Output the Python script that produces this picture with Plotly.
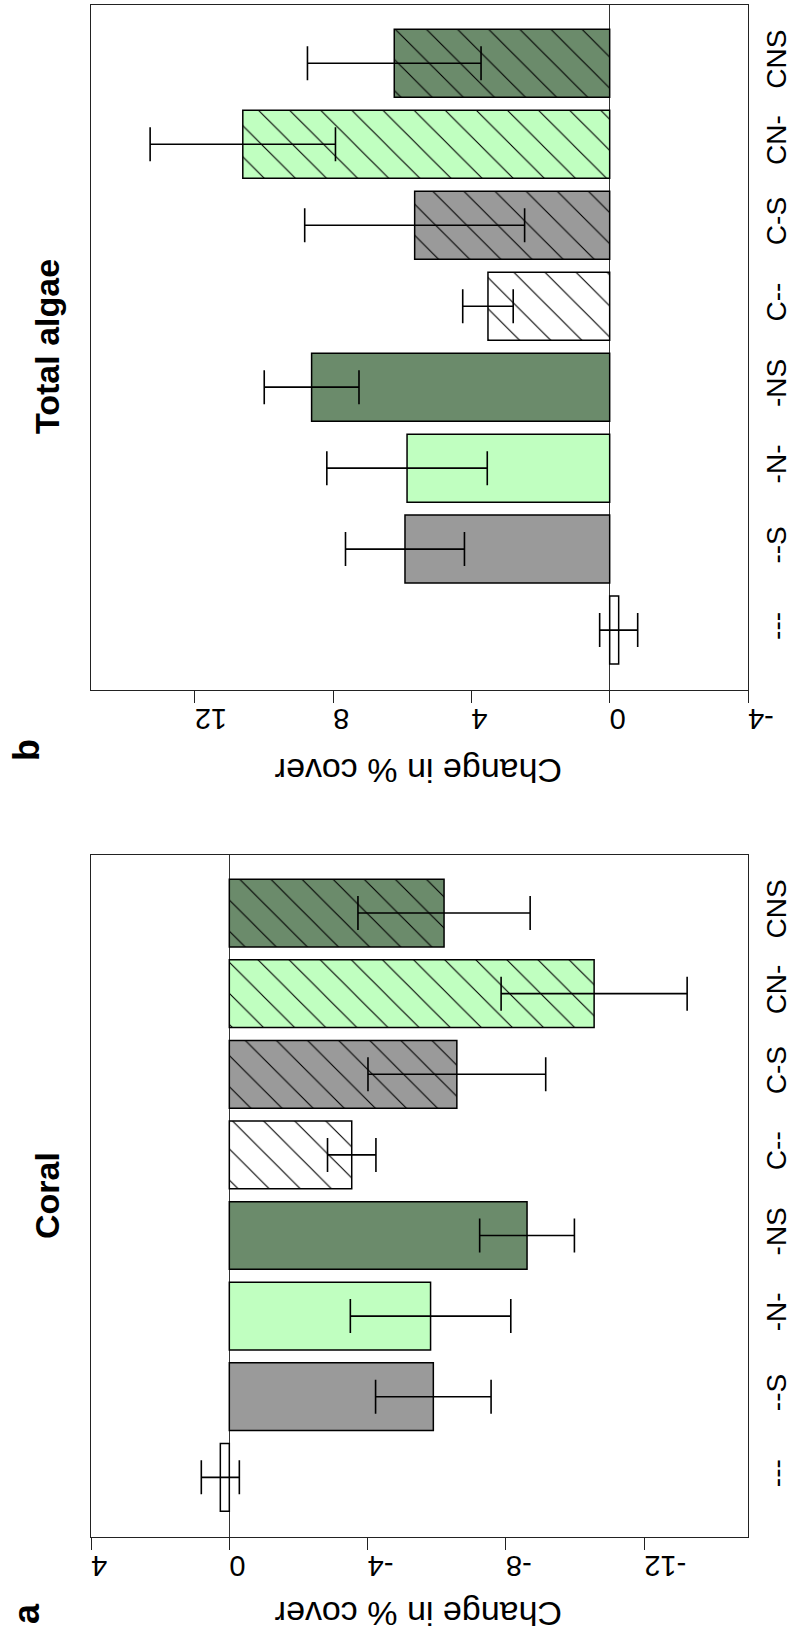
import plotly.graph_objects as go

# Treatments, bottom to top
categories = ["---", "--S", "-N-", "-NS", "C--", "C-S", "CN-", "CNS"]

# Panel a: change in coral cover (mean and standard error)
coral_mean = [0.26, -5.90, -5.82, -8.61, -3.54, -6.58, -10.55, -6.21]
coral_se = [0.55, 1.67, 2.32, 1.37, 0.70, 2.57, 2.69, 2.49]

# Panel b: change in total algae cover (mean and standard error)
algae_mean = [-0.26, 5.92, 5.86, 8.62, 3.52, 5.64, 10.61, 6.23]
algae_se = [0.55, 1.72, 2.32, 1.37, 0.73, 3.18, 2.68, 2.51]

coral_ticks = [4, 0, -4, -8, -12]
coral_ticktext = ["4", "0", "-4", "-8", "-12"]
algae_ticks = [12, 8, 4, 0, -4]
algae_ticktext = ["12", "8", "4", "0", "-4"]

# Fill per treatment; treatments with caging (C..) are hatched
fills = ["#ffffff", "#9a9a9a", "#c0ffc0", "#6b8b6b",
         "#ffffff", "#9a9a9a", "#c0ffc0", "#6b8b6b"]
hatched = [c.startswith("C") for c in categories]

W, H = 794, 1639
FONT = "Liberation Sans, Arial, Helvetica, sans-serif"


def px_x(x):
    return x / W


def px_y(y):
    return 1 - y / H


x_dom = [px_x(91), px_x(748)]
a_dom = [px_y(1537), px_y(855)]
b_dom = [px_y(690), px_y(5)]


def bar_traces(means, ses, xa, ya):
    traces = []
    for i, cat in enumerate(categories):
        marker = dict(color=fills[i], line=dict(color="black", width=1.5))
        if hatched[i]:
            marker["pattern"] = dict(shape="\\", fgcolor="#000000",
                                     bgcolor=fills[i], fgopacity=1,
                                     size=22, solidity=0.05,
                                     fillmode="replace")
        traces.append(go.Bar(
            y=[cat], x=[means[i]], orientation="h",
            xaxis=xa, yaxis=ya, showlegend=False, marker=marker,
            error_x=dict(type="data", array=[ses[i]], visible=True,
                         color="black", thickness=1.6, width=17),
        ))
    return traces


fig = go.Figure()
fig.add_traces(bar_traces(coral_mean, coral_se, "x", "y"))
fig.add_traces(bar_traces(algae_mean, algae_se, "x2", "y2"))

line_col = "#222222"
common_x = dict(
    showline=True, mirror=True, linecolor=line_col, linewidth=1.2,
    ticks="outside", ticklen=12, tickwidth=1.2, tickcolor=line_col,
    tickangle=180, tickfont=dict(family=FONT, size=29, color="black"),
    showgrid=False, zeroline=True, zerolinecolor="#333333", zerolinewidth=1,
    automargin=False,
)
common_y = dict(
    type="category", categoryorder="array", categoryarray=categories,
    range=[-0.74, 7.72], side="right", tickangle=-90,
    tickfont=dict(family=FONT, size=28, color="black"),
    ticklabelstandoff=3,
    showline=True, mirror=True, linecolor=line_col, linewidth=1.2,
    ticks="", showgrid=False, automargin=False,
)

fig.update_layout(
    width=W, height=H,
    margin=dict(l=0, r=0, t=0, b=0),
    paper_bgcolor="white", plot_bgcolor="white",
    barmode="overlay", bargap=0.16,
    xaxis=dict(domain=x_dom, anchor="y", range=[4, -15],
               tickvals=coral_ticks, ticktext=coral_ticktext, **common_x),
    yaxis=dict(domain=a_dom, anchor="x", **common_y),
    xaxis2=dict(domain=x_dom, anchor="y2", range=[15, -4],
                tickvals=algae_ticks, ticktext=algae_ticktext, **common_x),
    yaxis2=dict(domain=b_dom, anchor="x2", **common_y),
)

annotations = [
    # panel titles
    dict(text="<b>Coral</b>", x=px_x(47), y=px_y(1196), textangle=-90,
         font=dict(family=FONT, size=34, color="black")),
    dict(text="<b>Total algae</b>", x=px_x(47), y=px_y(347), textangle=-90,
         font=dict(family=FONT, size=34, color="black")),
    # value axis titles
    dict(text="Change in % cover", x=px_x(419), y=px_y(1614), textangle=180,
         font=dict(family=FONT, size=34, color="black")),
    dict(text="Change in % cover", x=px_x(419), y=px_y(771), textangle=180,
         font=dict(family=FONT, size=34, color="black")),
    # panel letters
    dict(text="<b>a</b>", x=px_x(26), y=px_y(1614), textangle=-90,
         font=dict(family=FONT, size=36, color="black")),
    dict(text="<b>b</b>", x=px_x(26), y=px_y(750), textangle=-90,
         font=dict(family=FONT, size=36, color="black")),
]
for a in annotations:
    a.update(xref="paper", yref="paper", showarrow=False,
             xanchor="center", yanchor="middle")
fig.update_layout(annotations=annotations)

fig.write_html("out.html")
